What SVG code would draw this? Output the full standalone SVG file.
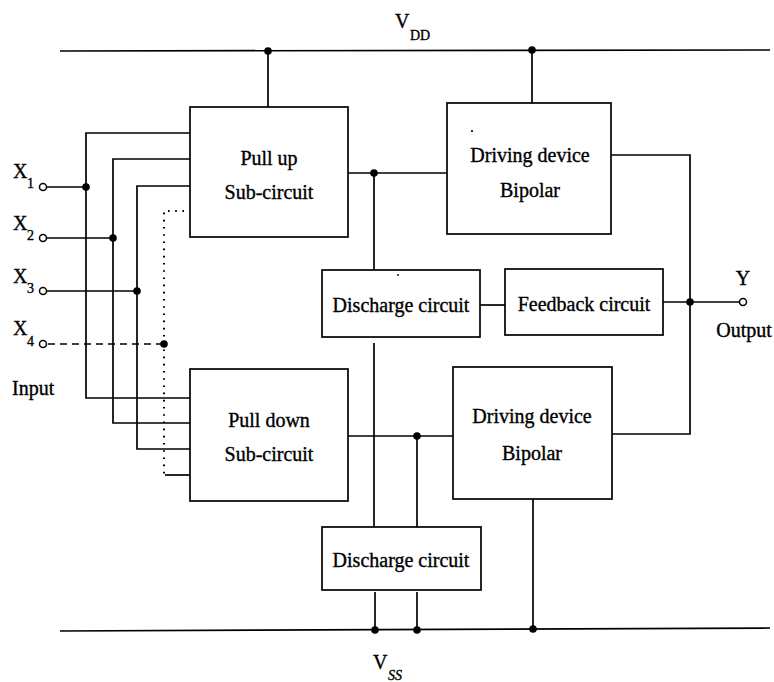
<svg xmlns="http://www.w3.org/2000/svg" width="774" height="682" viewBox="0 0 774 682">
<style>
  .box { fill: #fff; stroke: #000; stroke-width: 1.7; }
  .w { fill: none; stroke: #000; stroke-width: 1.7; }
  .dash { fill: none; stroke: #000; stroke-width: 1.6; stroke-dasharray: 7 5; }
  .dot { fill: none; stroke: #000; stroke-width: 2; stroke-dasharray: 1.6 5.6; }
  .j { fill: #000; }
  .term { fill: #fff; stroke: #000; stroke-width: 1.5; }
  text { font-family: "Liberation Serif", "Times New Roman", serif; fill: #000; stroke: #000; stroke-width: 0.35; }
  .t { font-size: 20px; text-anchor: middle; }
  .lbl { font-size: 20px; }
  .sub { font-size: 14px; }
</style>
<rect width="774" height="682" fill="#fff"/>

<g id="connectors">
  <line class="w" x1="60" y1="51" x2="770" y2="50"/>
  <line class="w" x1="60" y1="631" x2="770" y2="628"/>
  <line class="w" x1="268" y1="51" x2="268" y2="107"/>
  <line class="w" x1="532" y1="50" x2="532" y2="103"/>
  <line class="w" x1="47" y1="187" x2="86" y2="187"/>
  <line class="w" x1="47" y1="238" x2="113" y2="238"/>
  <line class="w" x1="47" y1="291" x2="137" y2="291"/>
  <line class="dash" x1="48" y1="344" x2="164" y2="344"/>
  <polyline class="w" points="190,133 86,133 86,398 190,398"/>
  <polyline class="w" points="190,159 113,159 113,423 190,423"/>
  <polyline class="w" points="190,186 137,186 137,449 190,449"/>
  <polyline class="dot" points="184,211 164,211 164,475"/>
  <line class="w" x1="165" y1="475" x2="190" y2="475"/>
  <line class="w" x1="348" y1="173" x2="447" y2="173"/>
  <line class="w" x1="374" y1="173" x2="374" y2="270"/>
  <line class="w" x1="480" y1="305" x2="505" y2="305"/>
  <line class="w" x1="663" y1="302" x2="739" y2="302"/>
  <polyline class="w" points="611,155 690,155 690,434 612,434"/>
  <line class="w" x1="374" y1="343" x2="374" y2="527"/>
  <line class="w" x1="348" y1="436" x2="453" y2="436"/>
  <line class="w" x1="417" y1="436" x2="417" y2="527"/>
  <line class="w" x1="375" y1="592" x2="375" y2="630"/>
  <line class="w" x1="417" y1="592" x2="417" y2="630"/>
  <line class="w" x1="533" y1="499" x2="533" y2="629"/>
  <circle class="j" cx="268" cy="51" r="3.8"/>
  <circle class="j" cx="532" cy="50" r="3.8"/>
  <circle class="j" cx="86" cy="187" r="3.8"/>
  <circle class="j" cx="113" cy="238" r="3.8"/>
  <circle class="j" cx="137" cy="291" r="3.8"/>
  <circle class="j" cx="164" cy="344" r="3.8"/>
  <circle class="j" cx="374" cy="173" r="3.8"/>
  <circle class="j" cx="690" cy="302" r="3.8"/>
  <circle class="j" cx="417" cy="436" r="3.8"/>
  <circle class="j" cx="375" cy="630" r="3.8"/>
  <circle class="j" cx="417" cy="630" r="3.8"/>
  <circle class="j" cx="533" cy="629" r="3.8"/>
  <circle class="term" cx="43" cy="187" r="3.5"/>
  <circle class="term" cx="43" cy="238" r="3.5"/>
  <circle class="term" cx="43" cy="291" r="3.5"/>
  <circle class="term" cx="43" cy="344" r="3.5"/>
  <circle class="term" cx="743" cy="302" r="3.5"/>
</g>

<g id="pullup">
  <rect class="box" x="190" y="107" width="158" height="130"/>
  <text class="t" x="269" y="165">Pull up</text>
  <text class="t" x="269" y="199">Sub-circuit</text>
</g>
<g id="drive-top">
  <rect class="box" x="447" y="103" width="164" height="131"/>
  <circle class="j" cx="472" cy="131" r="1.1"/>
  <text class="t" x="530" y="162">Driving device</text>
  <text class="t" x="530" y="197">Bipolar</text>
</g>
<g id="discharge-top">
  <rect class="box" x="322" y="270" width="158" height="67"/>
  <circle class="j" cx="398" cy="275" r="0.9"/>
  <text class="t" x="401" y="312">Discharge circuit</text>
</g>
<g id="feedback">
  <rect class="box" x="505" y="269" width="158" height="66"/>
  <text class="t" x="584" y="311">Feedback circuit</text>
</g>
<g id="pulldown">
  <rect class="box" x="190" y="369" width="158" height="132"/>
  <text class="t" x="269" y="427">Pull down</text>
  <text class="t" x="269" y="461">Sub-circuit</text>
</g>
<g id="drive-bottom">
  <rect class="box" x="453" y="367" width="159" height="132"/>
  <text class="t" x="532" y="423">Driving device</text>
  <text class="t" x="532" y="460">Bipolar</text>
</g>
<g id="discharge-bottom">
  <rect class="box" x="322" y="527" width="159" height="63"/>
  <text class="t" x="401" y="567">Discharge circuit</text>
</g>

<g id="labels">
  <text class="lbl" x="395" y="28">V</text>
  <text class="sub" x="410" y="40">DD</text>
  <text class="lbl" x="373" y="669">V</text>
  <text class="sub" x="388" y="680" font-style="italic">SS</text>
  <text class="lbl" x="13" y="178">X</text><text class="sub" x="27" y="188" font-size="11">1</text>
  <text class="lbl" x="13" y="230">X</text><text class="sub" x="27" y="240" font-size="11">2</text>
  <text class="lbl" x="13" y="283">X</text><text class="sub" x="27" y="293" font-size="11">3</text>
  <text class="lbl" x="13" y="335">X</text><text class="sub" x="27" y="346" font-size="11">4</text>
  <text class="lbl" x="12" y="395">Input</text>
  <text class="t" x="743" y="285">Y</text>
  <text class="t" x="744" y="337">Output</text>
</g>
</svg>
